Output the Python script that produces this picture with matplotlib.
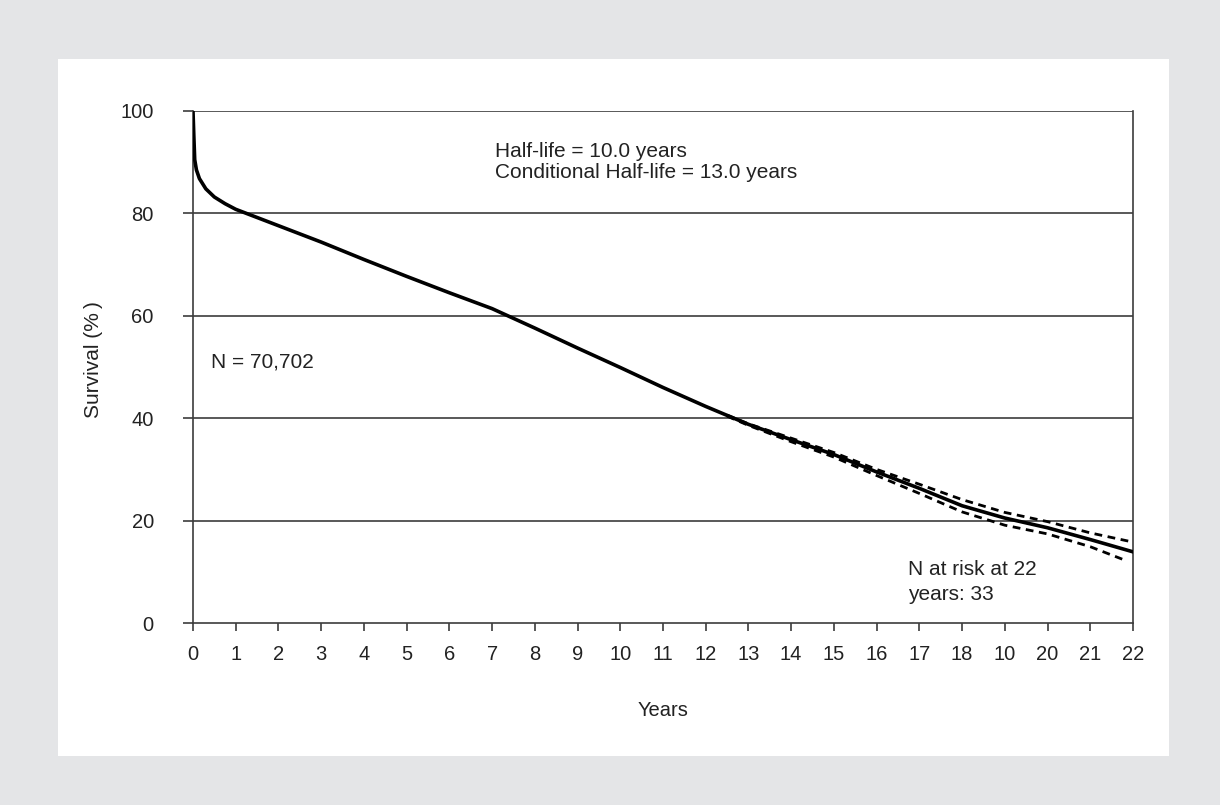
import matplotlib
matplotlib.use("Agg")
import matplotlib.pyplot as plt

plt.rcParams['font.family'] = ['Liberation Sans', 'DejaVu Sans']

# Data
years = [0, 0.02, 0.04, 0.08, 0.15, 0.3, 0.5, 0.75, 1.0, 1.5, 2, 3, 4, 5, 6, 7,
         8, 9, 10, 11, 12, 13, 14, 15, 16, 17, 18, 19, 20, 21, 22]
survival = [100, 95, 90.5, 88.5, 86.8, 84.8, 83.2, 81.9, 80.8, 79.2, 77.6, 74.4,
            71.0, 67.7, 64.5, 61.4, 57.6, 53.7, 49.9, 46.0, 42.3, 38.8, 35.8,
            32.9, 29.5, 26.3, 22.9, 20.5, 18.6, 16.3, 13.9]

upper_years = [12.5, 13, 14, 15, 16, 17, 18, 19, 20, 21, 22]
upper_ci = [40.6, 38.9, 36.1, 33.3, 30.0, 27.1, 24.1, 21.6, 19.8, 17.6, 15.8]

lower_years = [12.5, 13, 14, 15, 16, 17, 18, 19, 20, 21, 21.8]
lower_ci = [40.4, 38.6, 35.4, 32.4, 28.8, 25.3, 21.7, 19.1, 17.4, 14.9, 12.3]

x_ticks = list(range(23))
x_tick_labels = ['0', '1', '2', '3', '4', '5', '6', '7', '8', '9', '10', '11',
                 '12', '13', '14', '15', '16', '17', '18', '10', '20', '21', '22']
y_ticks = [0, 20, 40, 60, 80, 100]

TXT = '#222222'
LINE = '#3c3c3c'

W, H = 1220, 805
fig = plt.figure(figsize=(W / 100, H / 100), dpi=100)
fig.patch.set_facecolor('#e4e5e7')

bg = fig.add_axes([58 / W, (H - 756) / H, (1169 - 58) / W, (756 - 59) / H], zorder=-5)
bg.set_facecolor('white')
bg.set_xticks([])
bg.set_yticks([])
for s in bg.spines.values():
    s.set_visible(False)

ax = fig.add_axes([193 / W, (H - 623) / H, (1133 - 193) / W, (623 - 111) / H], zorder=1)
ax.set_facecolor('white')
ax.set_xlim(0, 22)
ax.set_ylim(0, 100)

for v in y_ticks[1:]:
    ax.axhline(v, color=LINE, lw=1.2, zorder=1)

ax.plot(years, survival, color='black', lw=2.6, zorder=3, solid_joinstyle='round')
ax.plot(upper_years, upper_ci, color='black', lw=2.0, ls=(0, (2.8, 2)), zorder=2)
ax.plot(lower_years, lower_ci, color='black', lw=2.0, ls=(0, (2.8, 2)), zorder=2)

for s in ['left', 'right', 'bottom']:
    ax.spines[s].set_color(LINE)
    ax.spines[s].set_linewidth(1.2)
ax.spines['top'].set_visible(False)

ax.set_xticks(x_ticks)
ax.set_xticklabels(x_tick_labels)
ax.set_yticks(y_ticks)
ax.tick_params(axis='x', direction='out', length=5.5, width=1.2, color=LINE,
               labelsize=14.5, pad=10, labelcolor=TXT)
ax.tick_params(axis='y', direction='out', length=7.2, width=1.2, color=LINE,
               labelsize=14.5, pad=21, labelcolor=TXT)

ax.set_xlabel('Years', fontsize=14.5, color=TXT, labelpad=27)
ax.set_ylabel('Survival (%\u2009)', fontsize=15, color=TXT)
ax.yaxis.set_label_coords(-0.0957, 0.514)

ax.text(7.07, 91.07, 'Half-life = 10.0 years', fontsize=15, color=TXT, va='baseline')
ax.text(7.07, 86.85, 'Conditional Half-life = 13.0 years', fontsize=15, color=TXT, va='baseline')
ax.text(0.41, 50.0, 'N = 70,702', fontsize=15, color=TXT, va='baseline')
ax.text(16.73, 9.4, 'N at risk at 22', fontsize=15, color=TXT, va='baseline')
ax.text(16.73, 4.5, 'years: 33', fontsize=15, color=TXT, va='baseline')

fig.savefig('out.png', dpi=100, facecolor=fig.get_facecolor())
